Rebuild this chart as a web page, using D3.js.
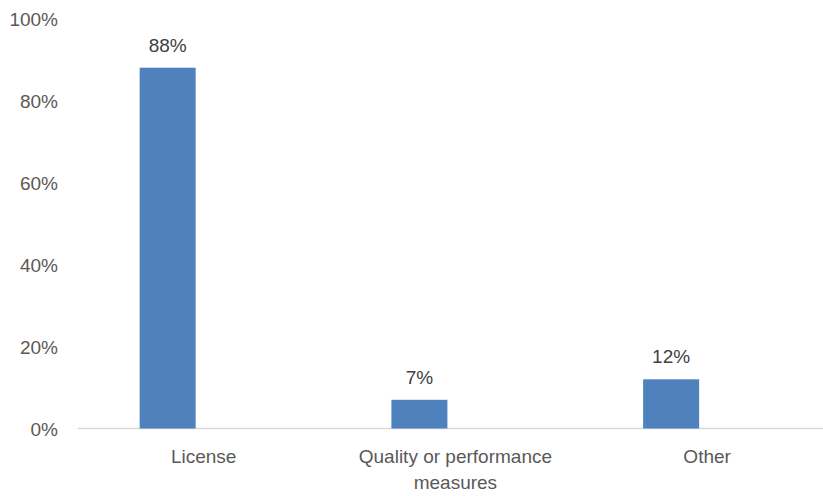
<!DOCTYPE html>
<html>
<head>
<meta charset="utf-8">
<script src="https://cdn.jsdelivr.net/npm/d3@7"></script>
<style>
  html, body { margin: 0; padding: 0; background: #fff; }
  svg { display: block; }
</style>
</head>
<body>
<svg id="chart" width="823" height="496"></svg>
<script>
const categories = ["License", "Quality or performance measures", "Other"];
const categoryLines = [["License"], ["Quality or performance", "measures"], ["Other"]];
const values = [88, 7, 12];
const yTicks = [0, 20, 40, 60, 80, 100];

const svg = d3.select("#chart");
const font = "'Liberation Sans', Arial, sans-serif";
const textColor = "#595959";

const y = d3.scaleLinear().domain([0, 100]).range([428.5, 18.5]);
const x = d3.scaleBand().domain(categories).range([41.8, 797])
  .paddingInner(0.7775).paddingOuter(0.38875);
// category labels sit on a band scale shifted right of the bars
const xl = d3.scaleBand().domain(categories).range([77.8, 833]);

// baseline
svg.append("line")
  .attr("x1", 78).attr("x2", 823)
  .attr("y1", y(0)).attr("y2", y(0))
  .attr("stroke", "#d9d9d9").attr("stroke-width", 1.5);

// y axis labels
const yAxis = d3.axisLeft(y).tickValues(yTicks).tickFormat(d => d + "%").tickSize(0).tickPadding(0);
const yg = svg.append("g").attr("transform", "translate(58,0)").call(yAxis);
yg.select(".domain").remove();
yg.selectAll("text").attr("font-family", font).attr("font-size", 19)
  .attr("fill", textColor).attr("dy", "0.36em");

// bars
svg.selectAll("rect.bar").data(values).enter().append("rect")
  .attr("class", "bar")
  .attr("x", (d, i) => x(categories[i]))
  .attr("width", x.bandwidth())
  .attr("y", d => y(d))
  .attr("height", d => y(0) - y(d))
  .attr("fill", "#4f81bd");

// data labels
svg.selectAll("text.val").data(values).enter().append("text")
  .attr("class", "val")
  .attr("x", (d, i) => x(categories[i]) + x.bandwidth() / 2)
  .attr("y", d => y(d) - 16)
  .attr("text-anchor", "middle")
  .attr("font-family", font).attr("font-size", 19).attr("fill", "#404040")
  .text(d => d + "%");

// category labels
categoryLines.forEach((lines, i) => {
  const cx = xl(categories[i]) + xl.bandwidth() / 2;
  const t = svg.append("text")
    .attr("x", cx)
    .attr("y", 463)
    .attr("text-anchor", "middle")
    .attr("font-family", font).attr("font-size", 19).attr("fill", textColor);
  lines.forEach((l, j) => {
    t.append("tspan").attr("x", cx)
      .attr("dy", j === 0 ? 0 : 26).text(l);
  });
});
</script>
</body>
</html>
